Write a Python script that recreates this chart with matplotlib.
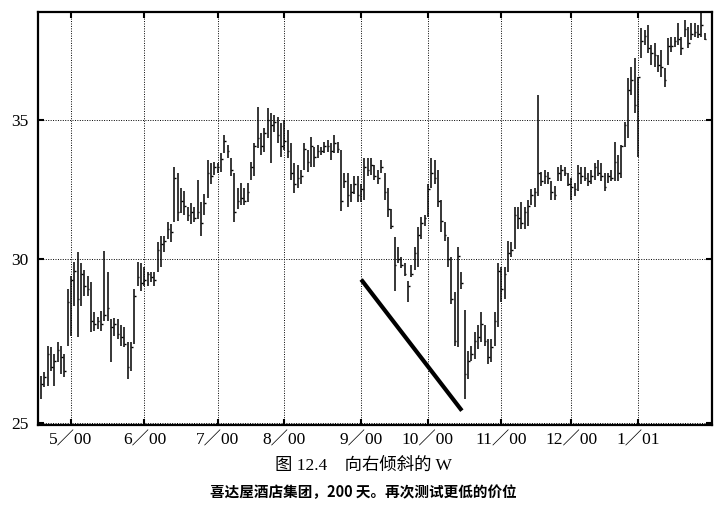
import matplotlib
matplotlib.use("Agg")
import matplotlib.pyplot as plt
from matplotlib.ticker import FixedLocator, NullLocator, FixedFormatter

# ---- data ----
high = [26.35, 26.46, 27.23, 27.20, 26.99, 27.35, 27.23, 26.99, 29.00, 29.42,
        29.90, 30.22, 29.87, 29.64, 29.42, 29.23, 28.27, 28.14, 28.30, 30.26,
        29.55, 28.05, 28.11, 28.05, 27.89, 27.83, 27.35, 27.35, 29.00, 29.90,
        29.87, 29.74, 29.58, 29.58, 29.55, 30.56, 30.76, 30.76, 31.24, 31.17,
        33.23, 33.01, 32.47, 32.33, 31.76, 31.93, 31.76, 32.76, 31.97, 32.22,
        33.49, 33.38, 33.42, 33.38, 33.75, 34.42, 34.05, 33.56, 33.01, 32.47,
        32.65, 32.47, 32.65, 33.42, 34.12, 35.51, 34.50, 34.69, 35.47, 35.27,
        35.19, 35.12, 34.88, 35.00, 34.62, 34.12, 33.38, 33.31, 33.12, 34.12,
        33.86, 34.35, 33.97, 34.05, 33.97, 34.16, 34.24, 34.12, 34.42, 34.16,
        33.86, 33.01, 33.01, 32.58, 32.87, 32.87, 32.58, 33.56, 33.56, 33.56,
        33.31, 33.12, 33.49, 33.01, 32.47, 31.69, 30.73, 30.39, 30.06, 29.87,
        29.26, 29.80, 30.39, 31.07, 31.41, 31.51, 32.58, 33.56, 33.49, 33.12,
        32.04, 31.24, 30.73, 30.06, 28.91, 30.39, 29.58, 28.36, 27.08, 27.23,
        27.65, 27.89, 28.27, 27.89, 27.44, 27.44, 28.27, 29.87, 29.74, 29.74,
        30.59, 30.56, 31.79, 31.76, 31.97, 31.76, 32.04, 32.40, 32.47, 35.98,
        33.05, 33.12, 33.05, 32.69, 32.51, 33.23, 33.31, 33.23, 33.01, 32.83,
        32.65, 33.31, 33.23, 33.20, 33.01, 33.12, 33.38, 33.49, 33.38, 33.01,
        33.01, 33.12, 34.16, 33.67, 34.05, 34.92, 36.67, 37.12, 37.49, 36.71,
        38.76, 38.67, 38.89, 38.04, 38.10, 37.62, 37.82, 37.08, 38.33, 38.38,
        38.38, 38.98, 38.38, 39.10, 38.80, 38.98, 38.98, 38.89, 39.41, 38.55]

low = [25.68, 26.03, 26.06, 26.49, 26.06, 26.75, 26.40, 26.32, 27.23, 27.53,
       28.46, 27.50, 28.46, 28.78, 28.78, 27.65, 27.70, 27.75, 27.70, 27.99,
       27.99, 26.75, 27.53, 27.44, 27.23, 27.20, 26.26, 26.49, 27.29, 29.10,
       28.94, 29.10, 29.10, 29.23, 29.10, 29.58, 29.74, 30.22, 30.66, 30.56,
       31.24, 31.27, 31.58, 31.51, 31.27, 31.17, 31.24, 31.34, 30.76, 31.51,
       32.11, 32.58, 32.94, 33.01, 33.05, 33.75, 33.56, 32.87, 31.24, 31.69,
       31.86, 31.86, 31.97, 32.76, 32.87, 33.94, 33.67, 33.79, 34.31, 33.38,
       34.54, 34.12, 33.60, 33.86, 33.56, 32.76, 32.29, 32.47, 32.58, 33.12,
       33.05, 33.23, 33.23, 33.56, 33.67, 33.75, 33.79, 33.49, 33.75, 33.75,
       31.62, 32.47, 31.79, 31.97, 32.22, 31.97, 31.97, 32.04, 32.87, 32.94,
       32.76, 32.58, 33.01, 32.04, 31.44, 31.00, 28.94, 29.87, 29.71, 29.42,
       28.59, 29.39, 29.64, 29.74, 30.66, 31.10, 31.44, 32.47, 32.58, 31.79,
       30.90, 30.59, 29.74, 28.52, 27.23, 27.20, 29.00, 25.68, 26.26, 26.78,
       26.84, 27.14, 27.35, 27.23, 26.70, 26.75, 27.23, 27.83, 28.59, 28.68,
       29.58, 30.06, 30.32, 31.00, 31.00, 31.00, 31.10, 31.86, 31.79, 32.15,
       32.51, 32.58, 32.58, 32.04, 32.04, 32.69, 32.69, 32.87, 32.51, 32.04,
       32.15, 32.33, 32.58, 32.69, 32.51, 32.58, 32.76, 32.87, 32.69, 32.33,
       32.65, 32.69, 32.69, 32.69, 32.83, 33.97, 34.31, 35.98, 35.27, 33.60,
       37.49, 38.04, 37.70, 37.20, 37.12, 36.91, 36.71, 36.31, 37.20, 37.74,
       37.95, 38.04, 37.62, 38.38, 37.90, 38.25, 38.38, 38.33, 38.38, 38.25]

close = [26.10, 26.30, 27.00, 26.60, 26.80, 27.10, 26.90, 26.50, 28.60, 29.30,
         29.60, 28.70, 29.50, 29.10, 29.00, 28.00, 27.90, 28.00, 27.90, 28.20,
         28.40, 27.80, 27.90, 27.60, 27.50, 27.30, 26.60, 27.20, 28.80, 29.40,
         29.20, 29.30, 29.50, 29.40, 29.30, 30.30, 30.50, 30.60, 31.00, 30.90,
         32.80, 31.60, 32.00, 31.80, 31.50, 31.60, 31.40, 31.60, 31.20, 31.90,
         33.00, 32.90, 33.20, 33.20, 33.50, 34.20, 33.80, 33.10, 31.60, 32.00,
         32.10, 32.00, 32.30, 33.20, 34.00, 34.30, 34.00, 34.50, 35.00, 34.80,
         34.90, 34.40, 34.00, 34.20, 33.80, 33.00, 32.60, 32.80, 32.90, 33.90,
         33.40, 34.00, 33.60, 33.80, 33.80, 34.00, 34.00, 33.80, 34.10, 33.90,
         32.00, 32.70, 32.20, 32.30, 32.60, 32.20, 32.40, 33.20, 33.10, 33.30,
         32.90, 32.80, 33.20, 32.30, 31.70, 31.10, 29.80, 30.00, 29.80, 29.50,
         29.10, 29.50, 30.20, 30.80, 31.20, 31.40, 32.40, 33.00, 32.80, 32.00,
         31.30, 30.80, 30.00, 28.70, 27.40, 30.10, 29.20, 26.40, 26.80, 27.00,
         27.40, 27.50, 27.90, 27.40, 26.90, 27.20, 28.00, 29.60, 29.00, 29.50,
         30.20, 30.30, 31.50, 31.40, 31.20, 31.60, 31.80, 32.20, 32.30, 33.00,
         32.70, 32.90, 32.80, 32.30, 32.20, 33.00, 33.10, 33.00, 32.60, 32.50,
         32.40, 33.00, 32.90, 32.80, 32.70, 32.90, 33.20, 33.00, 32.90, 32.50,
         32.90, 32.80, 33.40, 33.00, 34.00, 34.80, 36.20, 36.60, 35.60, 36.70,
         38.20, 38.40, 37.90, 37.70, 37.60, 37.20, 37.10, 36.60, 38.00, 38.00,
         38.20, 38.30, 37.90, 38.70, 38.10, 38.50, 38.60, 38.50, 38.90, 38.30]

month_start_idx = [9, 31, 53, 73, 96, 116, 138, 159, 179]
month_labels = ["5／00", "6／00", "7／00", "8／00", "9／00", "10／00", "11／00", "12／00", "1／01"]
y_ticks = [25, 30, 35]
y_labels = ["25", "30", "35"]

# hand-drawn trend line (day index, price)
trend_x = [96.0, 126.2]
trend_y = [29.32, 25.35]

title_line1 = "图 12.4　向右倾斜的 W"
title_line2 = "喜达屋酒店集团，200 天。再次测试更低的价位"

# ---- figure ----
fig = plt.figure(figsize=(7.27, 5.07), dpi=100)
ax = fig.add_axes([38 / 727, 1 - 425 / 507, (712 - 38) / 727, (425 - 12) / 507])

days = list(range(len(close)))
ax.vlines(days, low, high, color="black", linewidth=1.1)
ax.hlines(close, [d for d in days], [d + 0.5 for d in days], color="black", linewidth=1.0)

ax.plot(trend_x, trend_y, color="black", linewidth=3.0, solid_capstyle="butt")

ax.set_yscale("log")
ax.set_ylim(24.95, 39.45)
ax.set_xlim(-0.9, 201.2)

ax.yaxis.set_major_locator(FixedLocator(y_ticks))
ax.yaxis.set_major_formatter(FixedFormatter(y_labels))
ax.yaxis.set_minor_locator(NullLocator())
ax.xaxis.set_major_locator(FixedLocator(month_start_idx))
ax.xaxis.set_major_formatter(FixedFormatter(month_labels))
ax.xaxis.set_minor_locator(NullLocator())

ax.grid(True, which="major", color="black", linestyle=(0, (1, 1.5)), linewidth=0.7)
ax.tick_params(axis="both", direction="in", length=4, width=1.5,
               top=True, right=True, labelsize=12.5, colors="black")
ax.tick_params(axis="x", pad=5)
ax.tick_params(axis="y", pad=7)

fam = ["Liberation Serif", "Noto Sans CJK SC"]
for lab in ax.get_xticklabels() + ax.get_yticklabels():
    lab.set_family(fam)

for sp in ax.spines.values():
    sp.set_linewidth(1.6)
    sp.set_color("black")

fig.text(0.5, 1 - 466 / 507, title_line1, ha="center", va="center",
         fontsize=12.5, family=["Liberation Serif", "Noto Sans CJK SC"])
fig.text(0.5, 1 - 492 / 507, title_line2, ha="center", va="center",
         fontsize=10.5, fontweight="bold", family=["Noto Sans CJK SC", "DejaVu Sans"])

fig.savefig("out.png", dpi=100, facecolor="white")
